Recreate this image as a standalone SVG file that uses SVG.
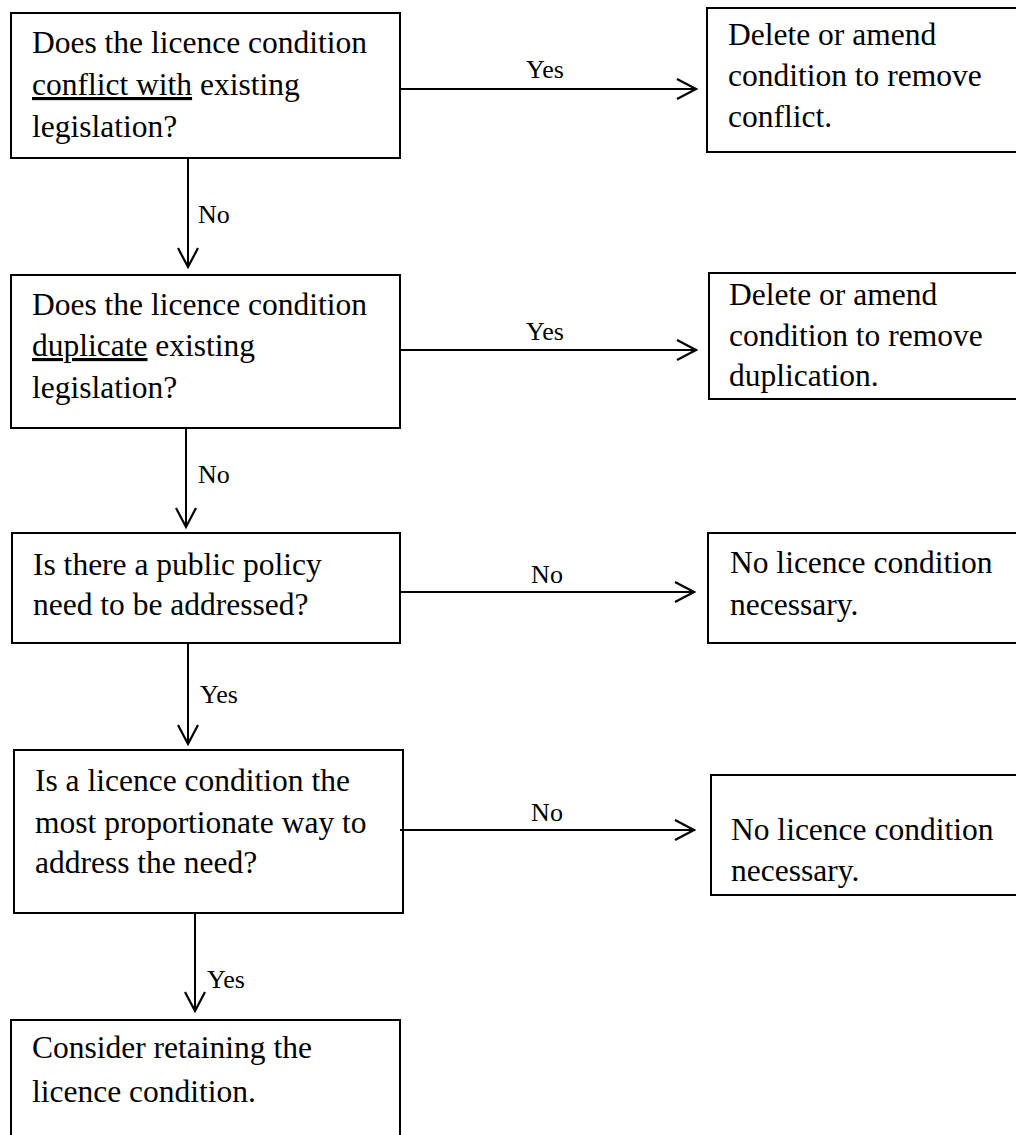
<svg xmlns="http://www.w3.org/2000/svg" width="1016" height="1135" viewBox="0 0 1016 1135">
<style>
.box{fill:#fff;stroke:#000;stroke-width:2}
.t{font-family:"Liberation Serif","Times New Roman",serif;font-size:31.5px;fill:#000}
.l{font-family:"Liberation Serif","Times New Roman",serif;font-size:26px;fill:#000}
.c{stroke:#000;stroke-width:2;fill:none}
.u{text-decoration:underline}
</style>
<defs>
<marker id="arr" markerUnits="userSpaceOnUse" viewBox="-22 -12 24 24" markerWidth="24" markerHeight="24" refX="0" refY="0" orient="auto">
<path d="M-19,-10 L0,0 L-19,10" fill="none" stroke="#000" stroke-width="2.2"/>
</marker>
</defs>
<rect width="1016" height="1135" fill="#fff"/>
<g id="n1"><rect class="box" x="11" y="13" width="389" height="145"/>
<text class="t" x="32" y="53">Does the licence condition</text>
<text class="t" x="32" y="95"><tspan class="u">conflict with</tspan> existing</text>
<text class="t" x="32" y="137">legislation?</text></g>
<g id="r1"><rect class="box" x="707" y="8" width="320" height="144"/>
<text class="t" x="728" y="45">Delete or amend</text>
<text class="t" x="728" y="86">condition to remove</text>
<text class="t" x="728" y="127">conflict.</text></g>
<g id="n2"><rect class="box" x="11" y="275" width="389" height="153"/>
<text class="t" x="32" y="315">Does the licence condition</text>
<text class="t" x="32" y="356"><tspan class="u">duplicate</tspan> existing</text>
<text class="t" x="32" y="398">legislation?</text></g>
<g id="r2"><rect class="box" x="709" y="273" width="320" height="126"/>
<text class="t" x="729" y="305">Delete or amend</text>
<text class="t" x="729" y="346">condition to remove</text>
<text class="t" x="729" y="386">duplication.</text></g>
<g id="n3"><rect class="box" x="12" y="533" width="388" height="110"/>
<text class="t" x="33" y="575">Is there a public policy</text>
<text class="t" x="33" y="615">need to be addressed?</text></g>
<g id="r3"><rect class="box" x="708" y="533" width="320" height="110"/>
<text class="t" x="730" y="573">No licence condition</text>
<text class="t" x="730" y="615">necessary.</text></g>
<g id="n4"><rect class="box" x="14" y="750" width="389" height="163"/>
<text class="t" x="35" y="791">Is a licence condition the</text>
<text class="t" x="35" y="833">most proportionate way to</text>
<text class="t" x="35" y="873">address the need?</text></g>
<g id="r4"><rect class="box" x="711" y="775" width="320" height="120"/>
<text class="t" x="731" y="840">No licence condition</text>
<text class="t" x="731" y="881">necessary.</text></g>
<g id="n5"><rect class="box" x="11" y="1020" width="389" height="140"/>
<text class="t" x="32" y="1058">Consider retaining the</text>
<text class="t" x="32" y="1102">licence condition.</text></g>
<g id="connectors">
<line class="c" x1="400" y1="89" x2="696" y2="89" marker-end="url(#arr)"/>
<text class="l" x="545" y="78" text-anchor="middle">Yes</text>
<line class="c" x1="188" y1="158" x2="188" y2="267" marker-end="url(#arr)"/>
<text class="l" x="198" y="223">No</text>
<line class="c" x1="400" y1="350" x2="696" y2="350" marker-end="url(#arr)"/>
<text class="l" x="545" y="340" text-anchor="middle">Yes</text>
<line class="c" x1="186" y1="428" x2="186" y2="527" marker-end="url(#arr)"/>
<text class="l" x="198" y="483">No</text>
<line class="c" x1="400" y1="592" x2="694" y2="592" marker-end="url(#arr)"/>
<text class="l" x="547" y="583" text-anchor="middle">No</text>
<line class="c" x1="188" y1="643" x2="188" y2="744" marker-end="url(#arr)"/>
<text class="l" x="200" y="703">Yes</text>
<line class="c" x1="400" y1="830" x2="694" y2="830" marker-end="url(#arr)"/>
<text class="l" x="547" y="821" text-anchor="middle">No</text>
<line class="c" x1="195" y1="913" x2="195" y2="1011" marker-end="url(#arr)"/>
<text class="l" x="207" y="988">Yes</text>
</g>
</svg>
